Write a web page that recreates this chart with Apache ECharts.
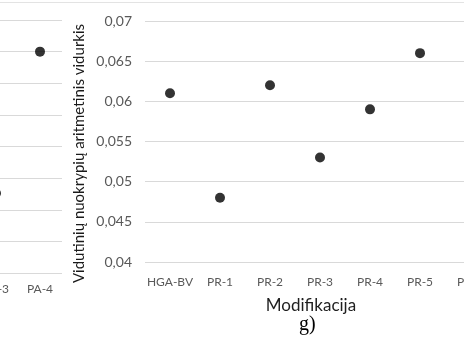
<!DOCTYPE html>
<html>
<head>
<meta charset="utf-8">
<script src="https://cdn.jsdelivr.net/npm/echarts@6/dist/echarts.min.js"></script>
<style>
html,body{margin:0;padding:0;background:#fff;}
#c{width:464px;height:337px;}
</style>
</head>
<body>
<div id="c"></div>
<script>
// Left (partially visible) chart
var leftCategories = ['PA-3', 'PA-4'];
var leftValues = [0.0526, 0.075];
var leftTicks = {min: 0.04, max: 0.08, interval: 0.005};

// Main chart
var categories = ['HGA-BV', 'PR-1', 'PR-2', 'PR-3', 'PR-4', 'PR-5', 'PR-6'];
var values = [0.061, 0.048, 0.062, 0.053, 0.059, 0.066, 0.068];
var yTicks = {min: 0.04, max: 0.07, interval: 0.005};

var yTitle = 'Vidutinių nuokrypių aritmetinis vidurkis';
var xTitle = 'Modifikacija';
var caption = 'g)';

var FONT = 'Lato, "Open Sans", sans-serif';
var chart = echarts.init(document.getElementById('c'), null, {renderer: 'canvas'});

function fmt(v) { return String(+v.toFixed(3)).replace('.', ','); }

chart.setOption({
  animation: false,
  backgroundColor: '#ffffff',
  grid: [
    {left: -26, top: 20, width: 88, height: 253, containLabel: false, outerBoundsMode: 'none'},
    {left: 145, top: 21, width: 350, height: 241, containLabel: false, outerBoundsMode: 'none'}
  ],
  xAxis: [
    {
      gridIndex: 0, type: 'category', data: leftCategories,
      axisLine: {show: false}, axisTick: {show: false},
      axisLabel: {color: '#595959', fontFamily: FONT, fontSize: 12, margin: 10, interval: 0, hideOverlap: false},
      splitLine: {show: false}
    },
    {
      gridIndex: 1, type: 'category', data: categories,
      axisLine: {show: false}, axisTick: {show: false},
      axisLabel: {color: '#595959', fontFamily: FONT, fontSize: 12, margin: 14, interval: 0},
      splitLine: {show: false},
      name: xTitle, nameLocation: 'middle', nameGap: 35,
      nameTextStyle: {color: '#1f1f1f', fontFamily: FONT, fontSize: 17, padding: [0, 18, 0, 0]}
    }
  ],
  yAxis: [
    {
      gridIndex: 0, type: 'value', min: leftTicks.min, max: leftTicks.max, interval: leftTicks.interval,
      axisLine: {show: false}, axisTick: {show: false}, axisLabel: {show: false},
      splitLine: {lineStyle: {color: '#d9d9d9', width: 1}}
    },
    {
      gridIndex: 1, type: 'value', min: yTicks.min, max: yTicks.max, interval: yTicks.interval,
      axisLine: {show: false}, axisTick: {show: false},
      axisLabel: {color: '#595959', fontFamily: FONT, fontSize: 14, margin: 13, formatter: fmt},
      splitLine: {lineStyle: {color: '#d9d9d9', width: 1}}
    }
  ],
  series: [
    {
      type: 'scatter', xAxisIndex: 0, yAxisIndex: 0, data: leftValues,
      symbol: 'circle', symbolSize: 10, itemStyle: {color: '#000000'}, silent: true
    },
    {
      type: 'scatter', xAxisIndex: 1, yAxisIndex: 1, data: values,
      symbol: 'circle', symbolSize: 10, itemStyle: {color: '#000000'}, silent: true
    }
  ],
  graphic: [
    {type: 'line', shape: {x1: 0, y1: 2.5, x2: 464, y2: 2.5}, style: {stroke: '#e3e3e3', lineWidth: 1}, silent: true},
    {type: 'text', x: 79, y: 153.5, rotation: Math.PI / 2,
     style: {text: yTitle, fill: '#1a1a1a', font: '15px Lato, "Open Sans", sans-serif', align: 'center', verticalAlign: 'middle'}},
    {type: 'text', left: 299, top: 315, style: {text: caption, fill: '#000000', font: '20px "Liberation Serif", "DejaVu Serif", serif'}}
  ]
});
</script>
</body>
</html>
